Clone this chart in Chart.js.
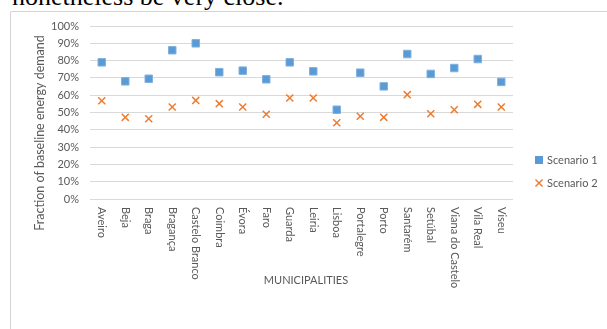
<!DOCTYPE html>
<html>
<head>
<meta charset="utf-8">
<script src="https://cdn.jsdelivr.net/npm/chart.js@4"></script>
<style>
  body { margin: 0; background: #fff; overflow: hidden; }
  #wrap { position: relative; width: 607px; height: 329px; }
  #above { position: absolute; left: 12px; top: -16px; font: 26px/26px "Liberation Serif", "Times New Roman", serif; color: #000; white-space: nowrap; }
  #myChart { position: absolute; left: 0; top: 0; }
</style>
</head>
<body>
<div id="wrap">
  <div id="above">nonetheless be very close.</div>
  <canvas id="myChart" width="607" height="329"></canvas>
</div>
<script>
const municipalities = ["Aveiro", "Beja", "Braga", "Bragança", "Castelo Branco", "Coimbra", "Évora", "Faro", "Guarda",
  "Leiria", "Lisboa", "Portalegre", "Porto", "Santarém", "Setúbal", "Viana do Castelo", "Vila Real", "Viseu"];
const scenario1 = [0.79, 0.68, 0.695, 0.86, 0.90, 0.733, 0.742, 0.692, 0.79,
  0.738, 0.516, 0.73, 0.651, 0.838, 0.723, 0.757, 0.809, 0.677];
const scenario2 = [0.568, 0.472, 0.464, 0.532, 0.57, 0.551, 0.532, 0.49, 0.584,
  0.584, 0.441, 0.478, 0.472, 0.603, 0.493, 0.516, 0.547, 0.532];
const yTicks = [0, 0.1, 0.2, 0.3, 0.4, 0.5, 0.6, 0.7, 0.8, 0.9, 1];

const textColor = "#595959";
const font = "Lato, 'Open Sans', sans-serif";

const extras = {
  id: "extras",
  beforeDraw(chart) {
    const ctx = chart.ctx;
    ctx.save();
    ctx.strokeStyle = "#d4d4d4";
    ctx.lineWidth = 1;
    ctx.beginPath();
    ctx.moveTo(10.5, 340);
    ctx.lineTo(10.5, 11.5);
    ctx.lineTo(620, 11.5);
    ctx.stroke();
    ctx.restore();
  },
  afterDraw(chart) {
    const ctx = chart.ctx;
    const x = chart.scales.x;
    ctx.save();
    ctx.fillStyle = textColor;
    ctx.font = "11px " + font;

    // category labels, rotated to read downwards
    ctx.textAlign = "left";
    ctx.textBaseline = "middle";
    municipalities.forEach((name, i) => {
      ctx.save();
      ctx.translate(x.getPixelForValue(i), 207);
      ctx.rotate(Math.PI / 2);
      ctx.fillText(name, 0, 0);
      ctx.restore();
    });

    // axis titles
    ctx.textAlign = "center";
    ctx.fillText("MUNICIPALITIES", 306, 280);
    ctx.save();
    ctx.font = "12.5px " + font;
    ctx.translate(40, 133);
    ctx.rotate(-Math.PI / 2);
    ctx.fillText("Fraction of baseline energy demand", 0, 0);
    ctx.restore();

    // legend
    ctx.textAlign = "left";
    ctx.fillStyle = "#5b9bd5";
    ctx.fillRect(535, 156, 8, 8);
    ctx.strokeStyle = "#ed7d31";
    ctx.lineWidth = 1.5;
    ctx.beginPath();
    ctx.moveTo(535.5, 179.5); ctx.lineTo(542.5, 186.5);
    ctx.moveTo(542.5, 179.5); ctx.lineTo(535.5, 186.5);
    ctx.stroke();
    ctx.fillStyle = textColor;
    ctx.fillText("Scenario 1", 547, 160);
    ctx.fillText("Scenario 2", 547, 183);
    ctx.restore();
  }
};

new Chart(document.getElementById("myChart"), {
  type: "line",
  data: {
    labels: municipalities,
    datasets: [
      {
        label: "Scenario 1",
        data: scenario1,
        showLine: false,
        pointStyle: "rect",
        pointRadius: 5.3,
        pointBackgroundColor: "#5b9bd5",
        pointBorderColor: "#7fb2e0",
        pointBorderWidth: 1,
      },
      {
        label: "Scenario 2",
        data: scenario2,
        showLine: false,
        pointStyle: "crossRot",
        pointRadius: 5,
        pointBorderColor: "#ed7d31",
        pointBorderWidth: 1.5,
      },
    ],
  },
  options: {
    responsive: false,
    animation: false,
    layout: { padding: { left: 10, right: 94, top: 26, bottom: 0 } },
    plugins: {
      legend: { display: false },
      tooltip: { enabled: false },
    },
    scales: {
      x: {
        offset: true,
        ticks: { display: false },
        grid: { display: false },
        border: { display: false },
        afterFit(scale) { scale.height = 130; },
      },
      y: {
        min: 0,
        max: 1,
        afterBuildTicks(scale) { scale.ticks = yTicks.map((v) => ({ value: v })); },
        ticks: {
          padding: 11,
          color: textColor,
          font: { family: font, size: 11 },
          callback: (v) => Math.round(v * 100) + "%",
        },
        grid: { color: "#d9d9d9", drawTicks: false },
        border: { display: false },
        afterFit(scale) { scale.width = 80; },
      },
    },
  },
  plugins: [extras],
});
</script>
</body>
</html>
